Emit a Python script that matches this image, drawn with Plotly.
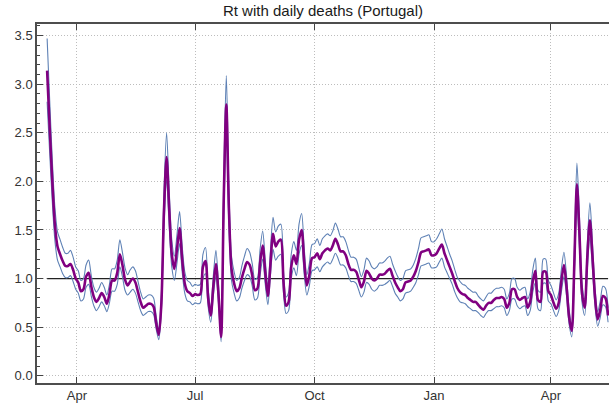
import pandas as pd
import plotly.graph_objects as go

# Estimation dates: every second day
dates = pd.date_range("2020-03-09", "2021-05-15", freq="2D")

rt = [
    3.14, 2.55, 2.00, 1.55, 1.33, 1.25, 1.18, 1.13, 1.13, 1.15, 1.09, 1.00,
    0.96, 0.87, 0.89, 1.02, 1.06, 0.92, 0.81, 0.76, 0.80, 0.85, 0.81, 0.74,
    0.84, 0.98, 0.98, 1.06, 1.25, 1.14, 0.99, 0.93, 0.97, 1.00, 0.96, 0.86,
    0.76, 0.70, 0.72, 0.74, 0.74, 0.71, 0.54, 0.42, 0.75, 1.70, 2.25, 1.72,
    1.25, 1.10, 1.30, 1.52, 1.20, 0.95, 0.87, 0.85, 0.82, 0.84, 0.83, 0.84,
    1.12, 1.18, 0.80, 0.62, 0.92, 1.15, 0.83, 0.40, 1.80, 2.79, 1.72, 1.10,
    0.95, 0.87, 0.90, 1.01, 1.10, 1.17, 1.14, 1.03, 0.88, 0.90, 1.16, 1.34,
    1.06, 0.82, 1.15, 1.46, 1.33, 1.38, 1.40, 0.97, 0.72, 0.76, 1.12, 1.24,
    1.15, 1.40, 1.50, 1.17, 0.93, 1.04, 1.21, 1.22, 1.26, 1.20, 1.26, 1.29,
    1.31, 1.29, 1.34, 1.41, 1.35, 1.28, 1.28, 1.24, 1.15, 1.09, 1.09, 1.07,
    0.99, 0.91, 0.97, 1.08, 1.05, 1.00, 0.98, 1.00, 1.04, 1.04, 1.05, 1.08,
    1.10, 1.03, 0.96, 0.91, 0.87, 0.89, 0.96, 0.97, 0.98, 1.02, 1.08, 1.17,
    1.27, 1.28, 1.29, 1.30, 1.24, 1.24, 1.26, 1.31, 1.35, 1.26, 1.19, 1.12,
    1.05, 0.97, 0.90, 0.86, 0.84, 0.83, 0.80, 0.78, 0.76, 0.76, 0.73, 0.70,
    0.68, 0.72, 0.75, 0.75, 0.78, 0.80, 0.80, 0.81, 0.79, 0.70, 0.75, 0.89,
    0.89, 0.81, 0.78, 0.80, 0.81, 0.70, 0.76, 0.97, 1.08, 0.78, 0.76, 1.07,
    1.07, 0.87, 0.83, 0.75, 0.69, 0.75, 0.97, 1.14, 0.92, 0.60, 0.46, 1.15,
    1.97, 1.45, 0.84, 0.70, 1.22, 1.60, 1.22, 0.80, 0.58, 0.68, 0.82, 0.80,
    0.62,
]

rt_upper = [
    3.47, 2.83, 2.22, 1.73, 1.48, 1.40, 1.32, 1.26, 1.26, 1.29, 1.22, 1.12,
    1.08, 0.98, 1.00, 1.14, 1.19, 1.03, 0.91, 0.86, 0.90, 0.96, 0.91, 0.83,
    0.94, 1.10, 1.10, 1.19, 1.40, 1.27, 1.11, 1.04, 1.09, 1.12, 1.08, 0.97,
    0.86, 0.79, 0.81, 0.83, 0.83, 0.80, 0.61, 0.48, 0.85, 1.89, 2.50, 1.91,
    1.40, 1.23, 1.45, 1.69, 1.34, 1.07, 0.98, 0.96, 0.92, 0.94, 0.93, 0.94,
    1.25, 1.32, 0.90, 0.70, 1.03, 1.29, 0.93, 0.46, 2.00, 3.09, 1.91, 1.23,
    1.07, 0.98, 1.01, 1.13, 1.23, 1.31, 1.27, 1.15, 0.99, 1.01, 1.30, 1.49,
    1.19, 0.92, 1.29, 1.63, 1.48, 1.54, 1.56, 1.09, 0.81, 0.86, 1.25, 1.38,
    1.29, 1.56, 1.67, 1.31, 1.04, 1.16, 1.35, 1.36, 1.41, 1.34, 1.41, 1.44,
    1.46, 1.44, 1.49, 1.57, 1.51, 1.43, 1.43, 1.38, 1.29, 1.22, 1.22, 1.20,
    1.11, 1.02, 1.09, 1.21, 1.18, 1.12, 1.10, 1.12, 1.16, 1.16, 1.18, 1.21,
    1.23, 1.15, 1.08, 1.02, 0.98, 1.00, 1.08, 1.09, 1.10, 1.14, 1.21, 1.31,
    1.42, 1.43, 1.44, 1.45, 1.38, 1.38, 1.41, 1.46, 1.51, 1.41, 1.33, 1.25,
    1.18, 1.09, 1.01, 0.97, 0.94, 0.93, 0.90, 0.88, 0.86, 0.86, 0.82, 0.79,
    0.77, 0.81, 0.85, 0.85, 0.88, 0.90, 0.90, 0.91, 0.89, 0.79, 0.85, 1.00,
    1.00, 0.91, 0.88, 0.90, 0.91, 0.79, 0.86, 1.09, 1.21, 0.88, 0.86, 1.20,
    1.20, 0.98, 0.93, 0.85, 0.78, 0.85, 1.09, 1.27, 1.03, 0.68, 0.53, 1.29,
    2.19, 1.62, 0.94, 0.79, 1.36, 1.78, 1.36, 0.90, 0.66, 0.77, 0.92, 0.90,
    0.70,
]

rt_lower = [
    2.82, 2.29, 1.79, 1.39, 1.19, 1.12, 1.05, 1.01, 1.01, 1.03, 0.97, 0.89,
    0.85, 0.77, 0.79, 0.91, 0.94, 0.82, 0.72, 0.67, 0.71, 0.76, 0.72, 0.66,
    0.75, 0.87, 0.87, 0.94, 1.12, 1.02, 0.88, 0.83, 0.86, 0.89, 0.85, 0.76,
    0.67, 0.62, 0.64, 0.66, 0.66, 0.63, 0.48, 0.37, 0.67, 1.52, 2.02, 1.54,
    1.12, 0.98, 1.16, 1.36, 1.07, 0.85, 0.77, 0.76, 0.73, 0.75, 0.74, 0.75,
    1.00, 1.05, 0.71, 0.55, 0.82, 1.03, 0.74, 0.35, 1.61, 2.50, 1.54, 0.98,
    0.85, 0.77, 0.80, 0.90, 0.98, 1.04, 1.02, 0.92, 0.78, 0.80, 1.03, 1.20,
    0.94, 0.73, 1.03, 1.30, 1.19, 1.23, 1.25, 0.86, 0.64, 0.67, 1.00, 1.11,
    1.03, 1.25, 1.34, 1.04, 0.83, 0.93, 1.08, 1.09, 1.12, 1.07, 1.12, 1.15,
    1.17, 1.15, 1.20, 1.26, 1.21, 1.14, 1.14, 1.11, 1.03, 0.97, 0.97, 0.95,
    0.88, 0.81, 0.86, 0.96, 0.94, 0.89, 0.87, 0.89, 0.93, 0.93, 0.94, 0.96,
    0.98, 0.92, 0.85, 0.81, 0.77, 0.79, 0.85, 0.86, 0.87, 0.91, 0.96, 1.04,
    1.13, 1.14, 1.15, 1.16, 1.11, 1.11, 1.12, 1.17, 1.21, 1.12, 1.06, 1.00,
    0.94, 0.86, 0.80, 0.76, 0.75, 0.74, 0.71, 0.69, 0.67, 0.67, 0.65, 0.62,
    0.60, 0.64, 0.67, 0.67, 0.69, 0.71, 0.71, 0.72, 0.70, 0.62, 0.67, 0.79,
    0.79, 0.72, 0.69, 0.71, 0.72, 0.62, 0.67, 0.86, 0.96, 0.69, 0.67, 0.95,
    0.95, 0.77, 0.74, 0.67, 0.61, 0.67, 0.86, 1.02, 0.82, 0.53, 0.40, 1.03,
    1.76, 1.30, 0.75, 0.62, 1.09, 1.43, 1.09, 0.71, 0.51, 0.60, 0.73, 0.71,
    0.55,
]

month_ticks = ["2020-04-01", "2020-07-01", "2020-10-01", "2021-01-01", "2021-04-01"]
month_labels = ["Apr", "Jul", "Oct", "Jan", "Apr"]

BAND = "#5E81B5"
CENTRE = "#800080"
FONT = "Liberation Sans, Arial, sans-serif"
GRID_DASH = "1px,2px"

fig = go.Figure()
for band in (rt_lower, rt_upper):
    fig.add_trace(go.Scatter(
        x=dates, y=band, mode="lines",
        line=dict(color=BAND, width=1.1, shape="spline", smoothing=0.8),
        hoverinfo="skip", showlegend=False,
    ))
fig.add_trace(go.Scatter(
    x=dates, y=rt, mode="lines",
    line=dict(color=CENTRE, width=2.6, shape="spline", smoothing=0.8),
    showlegend=False,
))

# reference level Rt = 1 across the estimation period
fig.add_shape(type="line", xref="x", yref="y",
              x0=dates[0], x1=dates[-1], y0=1, y1=1,
              line=dict(color="#222222", width=1.3), layer="between")

fig.update_layout(
    width=609, height=405,
    margin=dict(l=37, r=0, t=24, b=22),
    paper_bgcolor="white", plot_bgcolor="white",
    font=dict(family=FONT, size=13, color="#333333"),
    title=dict(text="Rt with daily deaths (Portugal)",
               x=0.5, xref="paper", xanchor="center",
               y=1 - 11 / 405, yref="container", yanchor="middle",
               font=dict(family=FONT, size=15, color="#1a1a1a")),
    showlegend=False,
)

fig.update_xaxes(
    range=["2020-03-01 05:00", "2021-05-15 17:00"],
    tickvals=month_ticks, ticktext=month_labels,
    ticks="inside", ticklen=6, tickwidth=1, tickcolor="#444444",
    showline=True, linecolor="#4d4d4d", linewidth=1.5, mirror="ticks",
    showgrid=True, gridcolor="#bdbdbd", gridwidth=1, griddash=GRID_DASH,
    zeroline=False,
)
fig.update_yaxes(
    range=[-0.075, 3.62],
    tickmode="linear", tick0=0, dtick=0.5, tickformat=".1f",
    ticks="inside", ticklen=6, tickwidth=1, tickcolor="#444444",
    minor=dict(tickmode="linear", tick0=0, dtick=0.1, ticks="inside",
               ticklen=3, tickwidth=1, tickcolor="#444444", showgrid=False),
    showline=True, linecolor="#4d4d4d", linewidth=1.5, mirror=False,
    showgrid=True, gridcolor="#bdbdbd", gridwidth=1, griddash=GRID_DASH,
    zeroline=False,
)

fig.write_html("out.html")
